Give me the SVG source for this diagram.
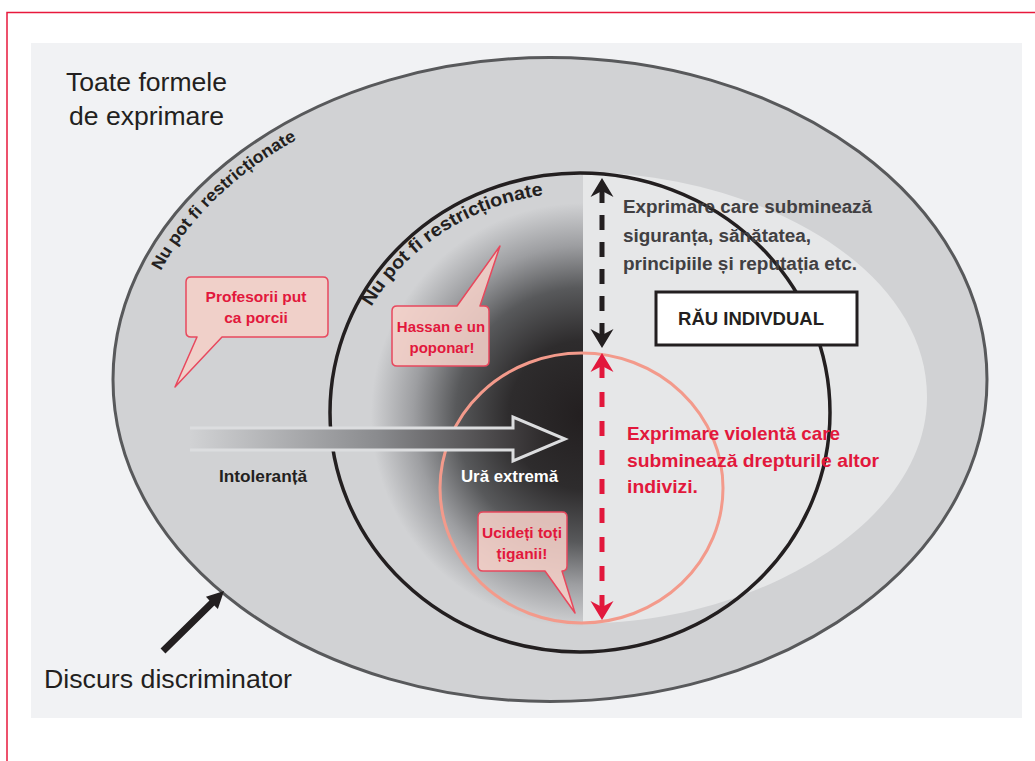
<svg xmlns="http://www.w3.org/2000/svg" width="1035" height="761" viewBox="0 0 1035 761">
<style>
.reg{font-family:"Liberation Sans",Arial,sans-serif;fill:#231f20}
.b{font-family:"Liberation Sans",Arial,sans-serif;font-weight:bold}
.bub{fill:#f4cfc7;fill-opacity:0.88;stroke:#e8485d;stroke-width:1.5;stroke-linejoin:round}
.red{fill:#e2183c}
.grey{fill:#414042}
</style>
<defs>
<radialGradient id="dark" gradientUnits="userSpaceOnUse" cx="583" cy="415" r="212">
<stop offset="0" stop-color="#231f20"/>
<stop offset="0.35" stop-color="#2e2c2d"/>
<stop offset="0.6" stop-color="#58595b"/>
<stop offset="0.8" stop-color="#9d9ea1"/>
<stop offset="1" stop-color="#d1d2d4"/>
</radialGradient>
<linearGradient id="arrowfill" gradientUnits="userSpaceOnUse" x1="190" y1="0" x2="565" y2="0">
<stop offset="0" stop-color="#d1d2d4"/>
<stop offset="0.5" stop-color="#8a8b8e"/>
<stop offset="1" stop-color="#231f20"/>
</linearGradient>
<marker id="ahBlack" markerUnits="userSpaceOnUse" markerWidth="24" markerHeight="24" refX="0" refY="0" orient="auto-start-reverse" overflow="visible">
<path d="M10,0 L-9,-11.5 L-3,0 L-9,11.5 Z" fill="#231f20"/>
</marker>
<marker id="ahRed" markerUnits="userSpaceOnUse" markerWidth="24" markerHeight="24" refX="0" refY="0" orient="auto-start-reverse" overflow="visible">
<path d="M10,0 L-9,-11.5 L-3,0 L-9,11.5 Z" fill="#e2183c"/>
</marker>
<path id="outerArc" d="M133,379.5 A417,302 0 0 1 967,379.5"/>
<path id="innerArc" d="M342,412.5 A238,220 0 0 1 818,412.5"/>
</defs>

<path d="M1040,12.5 H7 V770" fill="none" stroke="#e8193c" stroke-width="1.5"/>
<rect x="31" y="43" width="991" height="675" fill="#f1f2f4"/>

<g id="all-expression">
<ellipse cx="550" cy="379.5" rx="437" ry="322" fill="#d1d2d4" stroke="#58595b" stroke-width="3"/>
</g>
<g id="hate-zone">
<rect x="370" y="200" width="213" height="440" fill="url(#dark)"/>
</g>
<g id="harm-zone">
<path d="M583,172 C760,174 927,268 927,397 C927,522 760,618 600,623 L583,623 Z" fill="#e6e7e8"/>
</g>
<g id="restricted-circle">
<ellipse cx="580" cy="412.5" rx="250" ry="239.5" fill="none" stroke="#231f20" stroke-width="3.5"/>
</g>
<g id="violent-circle">
<ellipse cx="581.5" cy="488" rx="141.5" ry="135" fill="none" stroke="#f39a8b" stroke-width="3"/>
</g>

<g id="connectors">
<path d="M190,428 H513 V417 L565,439 L513,461 V450 H190" fill="url(#arrowfill)" stroke="#dcdddf" stroke-width="3"/>
<line x1="602" y1="188" x2="602" y2="338" stroke="#231f20" stroke-width="5" stroke-dasharray="15 12" marker-start="url(#ahBlack)" marker-end="url(#ahBlack)"/>
<line x1="602" y1="363" x2="602" y2="610" stroke="#e2183c" stroke-width="5" stroke-dasharray="15 14" marker-start="url(#ahRed)" marker-end="url(#ahRed)"/>
<polygon points="165.45,653.5 160.55,648.5 209.45,600.4 205.94,596.84 224,591 217.86,608.96 214.35,605.4" fill="#231f20"/>
</g>

<g id="label-all">
<text class="reg" x="66" y="91" font-size="26" textLength="161" lengthAdjust="spacingAndGlyphs">Toate formele</text>
<text class="reg" x="69" y="125" font-size="26" textLength="155" lengthAdjust="spacingAndGlyphs">de exprimare</text>
</g>
<g id="label-discriminator">
<text class="reg" x="44" y="688" font-size="26" textLength="248" lengthAdjust="spacingAndGlyphs">Discurs discriminator</text>
</g>
<g id="label-outer-arc">
<text class="b" font-size="17" fill="#231f20"><textPath href="#outerArc" startOffset="113" textLength="192" lengthAdjust="spacingAndGlyphs">Nu pot fi restricționate</textPath></text>
</g>
<g id="label-inner-arc">
<text class="b" font-size="18.5" fill="#231f20"><textPath href="#innerArc" startOffset="111" textLength="212" lengthAdjust="spacingAndGlyphs">Nu pot fi restricționate</textPath></text>
</g>

<g id="bubble-profesorii">
<path class="bub" d="M191,277 H323 Q328,277 328,282 V332 Q328,337 323,337 H222 L175,387 L197,337 H191 Q186,337 186,332 V282 Q186,277 191,277 Z"/>
<text class="b red" font-size="15.5" text-anchor="middle" x="256" y="302">Profesorii put</text>
<text class="b red" font-size="15.5" text-anchor="middle" x="256" y="323">ca porcii</text>
</g>
<g id="bubble-hassan">
<path class="bub" d="M397,306 H457 L500,246 L480,306 H484 Q489,306 489,311 V361 Q489,366 484,366 H397 Q392,366 392,361 V311 Q392,306 397,306 Z"/>
<text class="b red" font-size="15" text-anchor="middle" x="441" y="332">Hassan e un</text>
<text class="b red" font-size="15" text-anchor="middle" x="442" y="353">poponar!</text>
</g>
<g id="bubble-ucideti">
<path class="bub" d="M483,512 H562 Q567,512 567,517 V566 Q567,571 562,571 L575,613 L545,571 H483 Q478,571 478,566 V517 Q478,512 483,512 Z"/>
<text class="b red" font-size="15.5" text-anchor="middle" x="522" y="538">Ucideți toți</text>
<text class="b red" font-size="15.5" text-anchor="middle" x="522" y="559">țiganii!</text>
</g>

<g id="label-intoleranta">
<text class="b" font-size="16" fill="#231f20" x="219" y="482" textLength="88" lengthAdjust="spacingAndGlyphs">Intoleranță</text>
</g>
<g id="label-ura">
<text class="b" font-size="16" fill="#ffffff" x="461" y="482" textLength="97" lengthAdjust="spacingAndGlyphs">Ură extremă</text>
</g>

<g id="label-individual-harm">
<text class="b grey" font-size="18" x="623" y="213" textLength="249" lengthAdjust="spacingAndGlyphs">Exprimare care subminează</text>
<text class="b grey" font-size="18" x="623" y="242" textLength="188" lengthAdjust="spacingAndGlyphs">siguranța, sănătatea,</text>
<text class="b grey" font-size="18" x="623" y="270" textLength="234" lengthAdjust="spacingAndGlyphs">principiile și reputația etc.</text>
</g>
<g id="box-rau">
<rect x="656" y="292" width="201" height="53" fill="#ffffff" stroke="#231f20" stroke-width="3"/>
<text class="b" font-size="18.5" fill="#231f20" text-anchor="middle" x="751" y="325">RĂU INDIVDUAL</text>
</g>
<g id="label-violent">
<text class="b red" font-size="19" x="627" y="440" textLength="213" lengthAdjust="spacingAndGlyphs">Exprimare violentă care</text>
<text class="b red" font-size="19" x="627" y="467" textLength="252" lengthAdjust="spacingAndGlyphs">subminează drepturile altor</text>
<text class="b red" font-size="19" x="627" y="493" textLength="71" lengthAdjust="spacingAndGlyphs">indivizi.</text>
</g>
</svg>
